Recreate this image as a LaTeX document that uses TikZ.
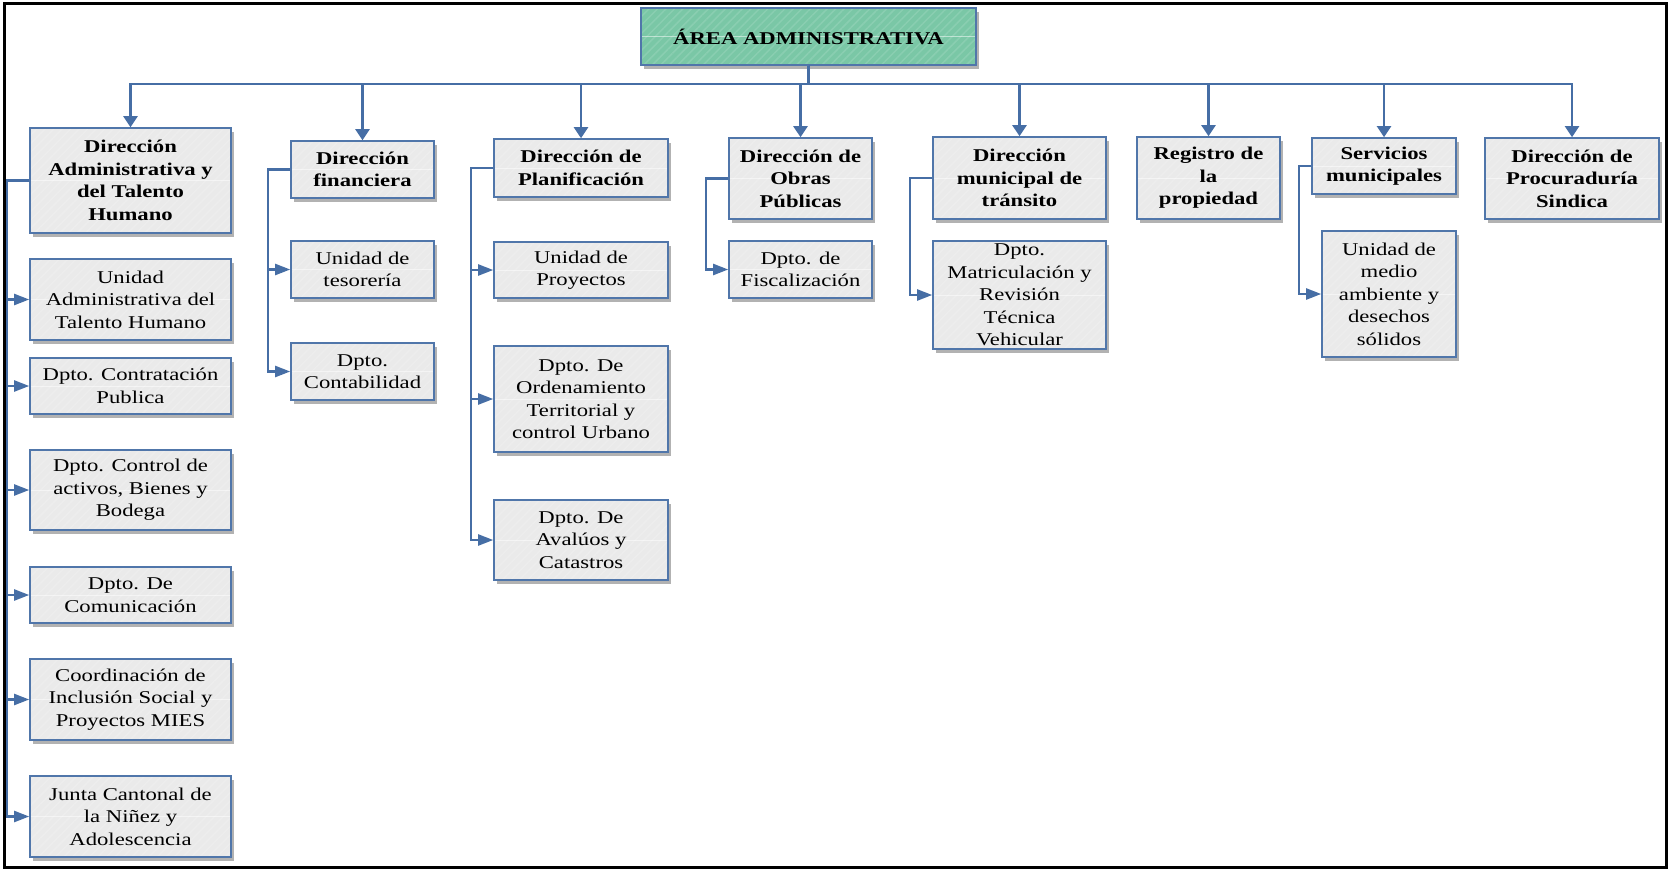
\documentclass[tikz,border=0pt]{standalone}
\usepackage{fontspec}
\setmainfont{Liberation Serif}[FakeStretch=1.26]
\usetikzlibrary{arrows.meta,shadows,patterns.meta,calc}

\definecolor{boxfill}{RGB}{234,234,234}
\definecolor{boxline}{RGB}{80,118,170}
\definecolor{linkblue}{RGB}{70,110,165}
\definecolor{titlefill}{RGB}{122,199,166}

\tikzset{
  basebox/.style={
    drop shadow={shadow xshift=3pt, shadow yshift=-4pt, opacity=0.3, fill=black},
    preaction={fill=#1},
    preaction={pattern={Lines[angle=45,distance=6pt,line width=1.5pt]},
               pattern color={#1!88!white}},
    draw=boxline, line width=1.6pt,
    align=center, inner sep=2pt,
    font=\fontsize{18}{22.5}\selectfont,
    path picture={\draw[white, line width=0.8pt, opacity=0.5]
      (path picture bounding box.west) -- (path picture bounding box.east);}},
  unitbox/.style={basebox=boxfill},
  headbox/.style={basebox=boxfill, font=\fontsize{18}{22.5}\selectfont\bfseries},
  titlebox/.style={basebox=titlefill, font=\fontsize{18}{22.5}\selectfont\bfseries},
  downlink/.style={draw=linkblue, line width=2.2pt,
    -{Triangle[length=11pt,width=14pt]}},
  sidelink/.style={draw=linkblue, line width=2.2pt,
    -{Triangle[length=15pt,width=11pt]}},
}

% \OrgBox{style}{name}{x1}{y1}{x2}{y2}{text}
\newcommand\OrgBox[7]{%
  \node[#1, minimum width={(#5-#3)*1pt}, minimum height={(#6-#4)*1pt}]
    (#2) at ({(#3+#5)/2},{(#4+#6)/2}) {#7};}

\begin{document}
\begin{tikzpicture}[x=1pt, y=-1pt]
\useasboundingbox (0,0) rectangle (1670,870);
\fill[white] (0,0) rectangle (1670,870);
\draw[black, line width=3pt] (4,3) rectangle (1666,867);

% top of the chart
\OrgBox{titlebox}{top}{641}{8}{976}{65}{ÁREA ADMINISTRATIVA}

% directorate heads
\OrgBox{headbox}{hA}{30}{128}{231}{233}{Dirección\\Administrativa y\\del Talento\\Humano}
\OrgBox{headbox}{hB}{291}{141}{434}{198}{Dirección\\financiera}
\OrgBox{headbox}{hC}{494}{139}{668}{197}{Dirección de\\Planificación}
\OrgBox{headbox}{hD}{729}{138}{872}{219}{Dirección de\\Obras\\Públicas}
\OrgBox{headbox}{hE}{933}{137}{1106}{219}{Dirección\\municipal de\\tránsito}
\OrgBox{headbox}{hF}{1137}{137}{1280}{219}{Registro de\\la\\propiedad}
\OrgBox{headbox}{hG}{1312}{138}{1456}{194}{Servicios\\municipales}
\OrgBox{headbox}{hH}{1485}{138}{1659}{219}{Dirección de\\Procuraduría\\Sindica}

% units under each directorate
\OrgBox{unitbox}{a1}{30}{259}{231}{340}{Unidad\\Administrativa del\\Talento Humano}
\OrgBox{unitbox}{a2}{30}{358}{231}{414}{Dpto. Contratación\\Publica}
\OrgBox{unitbox}{a3}{30}{450}{231}{530}{Dpto. Control de\\activos, Bienes y\\Bodega}
\OrgBox{unitbox}{a4}{30}{567}{231}{623}{Dpto. De\\Comunicación}
\OrgBox{unitbox}{a5}{30}{659}{231}{740}{Coordinación de\\Inclusión Social y\\Proyectos MIES}
\OrgBox{unitbox}{a6}{30}{776}{231}{857}{Junta Cantonal de\\la Niñez y\\Adolescencia}

\OrgBox{unitbox}{b1}{291}{241}{434}{298}{Unidad de\\tesorería}
\OrgBox{unitbox}{b2}{291}{343}{434}{400}{Dpto.\\Contabilidad}

\OrgBox{unitbox}{c1}{494}{242}{668}{298}{Unidad de\\Proyectos}
\OrgBox{unitbox}{c2}{494}{346}{668}{452}{Dpto. De\\Ordenamiento\\Territorial y\\control Urbano}
\OrgBox{unitbox}{c3}{494}{500}{668}{580}{Dpto. De\\Avalúos y\\Catastros}

\OrgBox{unitbox}{d1}{729}{241}{872}{298}{Dpto. de\\Fiscalización}

\OrgBox{unitbox}{e1}{933}{241}{1106}{349}{Dpto.\\Matriculación y\\Revisión\\Técnica\\Vehicular}

\OrgBox{unitbox}{g1}{1322}{231}{1456}{357}{Unidad de\\medio\\ambiente y\\desechos\\sólidos}

% bus from the top box to every directorate
\foreach \h in {hA,hB,hC,hD,hE,hF,hG,hH}
  \draw[downlink] (top.south) -- ($(top.south)+(0,18)$) -| (\h.north);

% side trunks from each directorate to its units
\foreach \p/\c in {hA/a1,hA/a2,hA/a3,hA/a4,hA/a5,hA/a6,hB/b1,hB/b2,
                   hC/c1,hC/c2,hC/c3,hD/d1,hE/e1,hG/g1}
  \draw[sidelink] (\p.west) -| ([xshift=-22pt]\c.west) -- (\c.west);
\end{tikzpicture}
\end{document}
